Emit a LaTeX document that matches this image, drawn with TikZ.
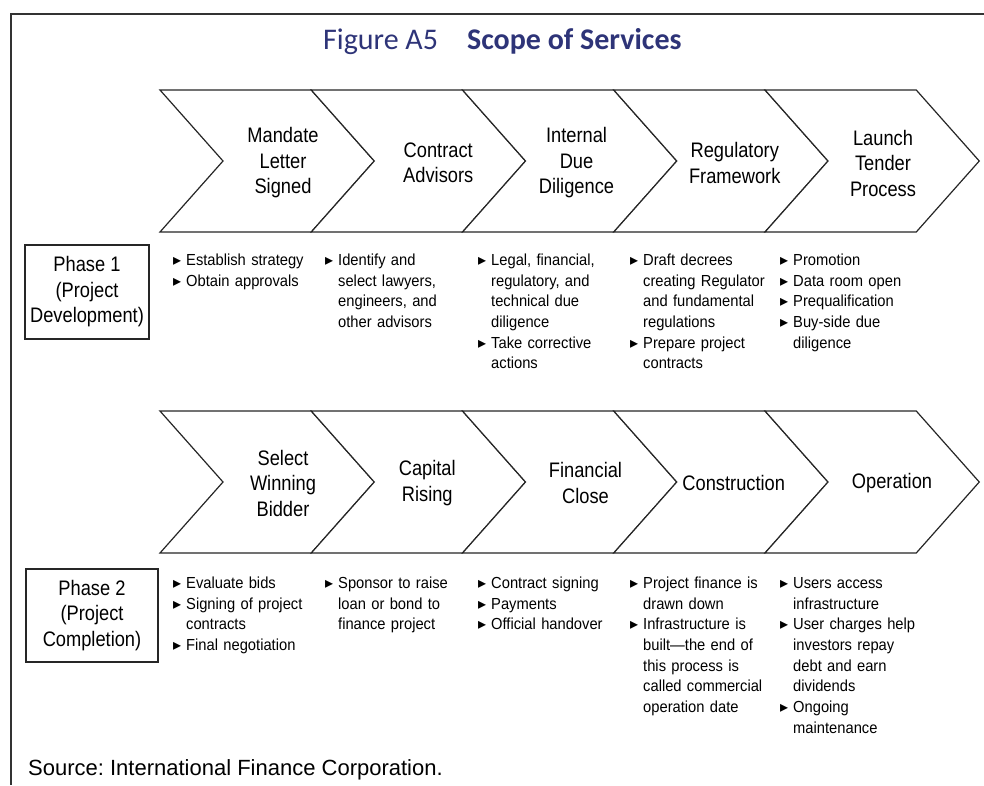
\documentclass[tikz,border=0pt]{standalone}
\usepackage{fontspec}
\setmainfont{Liberation Sans}[FakeStretch=0.92]
\newfontfamily\chevfont{Liberation Sans}[FakeStretch=0.87]
\newfontfamily\srcfont{Liberation Sans}
\newfontfamily\titlefont{Carlito}
\newfontfamily\symfont{DejaVu Sans}
\definecolor{titleblue}{RGB}{46,52,120}
\newcommand{\bul}{{\symfont\fontsize{16}{16}\selectfont\raisebox{0pt}{▸}}}
\newcommand{\bitem}[1]{\par\hangindent=13pt\hangafter=1\noindent\strut\makebox[13pt][l]{\bul}#1\par}

\begin{document}
\frenchspacing
\begin{tikzpicture}[x=1pt,y=-1pt,
    chev/.style={draw=black!85,line width=1.2pt,line join=miter,fill=white},
    chevlabel/.style={font=\chevfont\fontsize{21}{25.5}\selectfont,align=center,inner sep=0pt},
    phasebox/.style={draw=black!85,line width=1.2pt,font=\chevfont\fontsize{21}{25.5}\selectfont,align=center,inner sep=0pt},
    bullets/.style={anchor=north west,inner sep=0pt,text width=150pt,align=left,font=\fontsize{16}{20.7}\selectfont}]
    % basics
    \useasboundingbox (0,0) rectangle (984,785);
    \draw[line width=2pt,black!80] (984,14) -- (11,14) -- (11,785);
    \node[anchor=base west,inner sep=0pt,text=titleblue,font=\titlefont\fontsize{30}{35}\selectfont] (title) at (323,49) {Figure A5\hspace{29pt}\textbf{Scope of Services}};

    % chevrons
    %% phase 1
    \foreach \lab/\dx [count=\i from 0] in {{Mandate\\Letter\\Signed}/123,{Contract\\Advisors}/127,{Internal\\Due\\Diligence}/114,{Regulatory\\Framework}/121,{Launch\\Tender\\Process}/118}{
        \pgfmathsetmacro{\cx}{160+151.25*\i}
        \draw[chev] (\cx,90) -- ++(151.25,0) -- ++(63,71) -- ++(-63,71) -- ++(-151.25,0) -- ++(63,-71) -- cycle;
        \node[chevlabel] (pA\i) at (\cx+\dx,163) {\lab};
    }
    %% phase 2
    \foreach \lab/\dx [count=\i from 0] in {{Select\\Winning\\Bidder}/123,{Capital\\Rising}/116,{Financial\\Close}/123,{Construction}/120,{Operation}/127}{
        \pgfmathsetmacro{\cx}{160+151.25*\i}
        \draw[chev] (\cx,411) -- ++(151.25,0) -- ++(63,71) -- ++(-63,71) -- ++(-151.25,0) -- ++(63,-71) -- cycle;
        \node[chevlabel] (pB\i) at (\cx+\dx,483) {\lab};
    }

    % phase boxes
    \node[phasebox,minimum width=124pt,minimum height=94pt] (phaseA) at (87,292) {Phase 1\\(Project\\Development)};
    \node[phasebox,minimum width=132pt,minimum height=93pt] (phaseB) at (92,615.5) {Phase 2\\(Project\\Completion)};

    % texts and notes
    %% phase 1
    \node[bullets] (devA) at (173,244.5) {\bitem{Establish strategy}\bitem{Obtain approvals}};
    \node[bullets] (devB) at (325,244.5) {\bitem{Identify and\newline select lawyers,\newline engineers, and\newline other advisors}};
    \node[bullets] (devC) at (478,244.5) {\bitem{Legal, financial,\newline regulatory, and\newline technical due\newline diligence}\bitem{Take corrective\newline actions}};
    \node[bullets] (devD) at (630,244.5) {\bitem{Draft decrees\newline creating Regulator\newline and fundamental\newline regulations}\bitem{Prepare project\newline contracts}};
    \node[bullets] (devE) at (780,244.5) {\bitem{Promotion}\bitem{Data room open}\bitem{Prequalification}\bitem{Buy-side due\newline diligence}};
    %% phase 2
    \node[bullets] (compA) at (173,567.5) {\bitem{Evaluate bids}\bitem{Signing of project\newline contracts}\bitem{Final negotiation}};
    \node[bullets] (compB) at (325,567.5) {\bitem{Sponsor to raise\newline loan or bond to\newline finance project}};
    \node[bullets] (compC) at (478,567.5) {\bitem{Contract signing}\bitem{Payments}\bitem{Official handover}};
    \node[bullets] (compD) at (630,567.5) {\bitem{Project finance is\newline drawn down}\bitem{Infrastructure is\newline built—the end of\newline this process is\newline called commercial\newline operation date}};
    \node[bullets] (compE) at (780,567.5) {\bitem{Users access\newline infrastructure}\bitem{User charges help\newline investors repay\newline debt and earn\newline dividends}\bitem{Ongoing\newline maintenance}};

    %% source
    \node[anchor=base west,inner sep=0pt,font=\srcfont\fontsize{22}{26}\selectfont] (source) at (28,775) {Source: International Finance Corporation.};
\end{tikzpicture}
\end{document}
